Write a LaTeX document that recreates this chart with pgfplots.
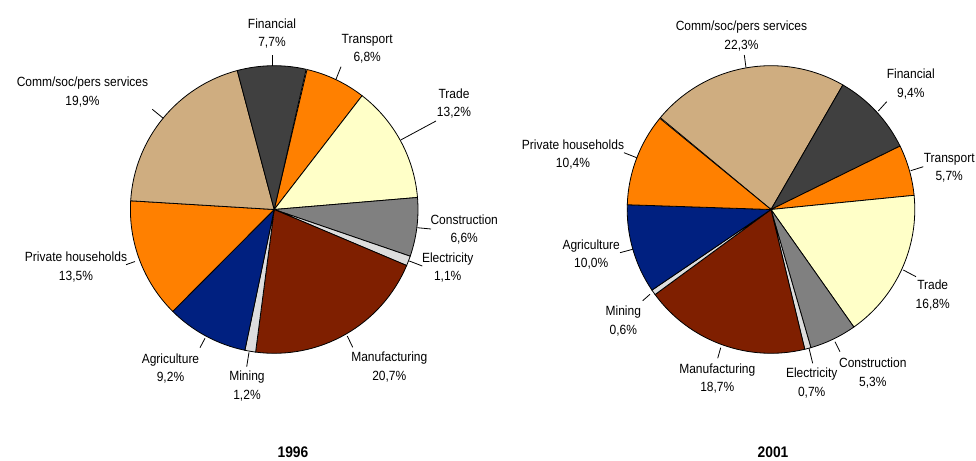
\documentclass[border=0pt]{standalone}
\usepackage{fontspec}
\setmainfont{Liberation Sans}[FakeStretch=0.9]
\usepackage{pgfplots}
\usepackage{pgfplotstable}
\pgfplotsset{compat=1.18}

\definecolor{cTan}{HTML}{CFAD80}
\definecolor{cDark}{HTML}{404040}
\definecolor{cOrange}{HTML}{FF8000}
\definecolor{cYellow}{HTML}{FFFFC8}
\definecolor{cGrey}{HTML}{808080}
\definecolor{cLight}{HTML}{DDDDDD}
\definecolor{cBrown}{HTML}{7F1F00}
\definecolor{cNavy}{HTML}{002080}

% shares in %, slice colour, label position (px) and leader line (px)
\pgfplotstableread[col sep=comma]{
sector,pct,fill,lx,ly,ax,ay,bx,by
Transport,6.8,cOrange,367.2,38.3,341,66.7,336,79.3
Trade,13.2,cYellow,454,93.3,436,121,400.7,140
Construction,6.6,cGrey,464.2,219.3,431,229,417.3,227.7
Electricity,1.1,cLight,447.7,257.3,422.3,266,409.3,261
Manufacturing,20.7,cBrown,389.3,356.7,352.7,347.3,347.3,336
Mining,1.2,cLight,247,376,246.7,366.7,249,352.3
Agriculture,9.2,cNavy,170.5,358.3,200,347.7,205,338.3
Private households,13.5,cOrange,76,256.7,126,264.7,135,261.5
Comm/soc/pers services,19.9,cTan,82.5,81.7,152.3,109.3,163.3,118.3
Financial,7.7,cDark,272,23.3,272.7,55,272.7,65.7
}\sharesA

\pgfplotstableread[col sep=comma]{
sector,pct,fill,lx,ly,ax,ay,bx,by
Comm/soc/pers services,22.3,cTan,741.5,26,744.3,55,746,67.7
Financial,9.4,cDark,910.8,74,886.7,101.7,878.3,111
Transport,5.7,cOrange,949.2,157.3,923.3,166.7,910.7,170.7
Trade,16.8,cYellow,932.7,285,916,276.7,903.3,270
Construction,5.3,cGrey,872.8,362.7,840,351.7,835,341.7
Electricity,0.7,cLight,811.7,372.7,812.7,363.3,809,348.3
Manufacturing,18.7,cBrown,717.3,368.3,717.7,358.3,720.7,347.7
Mining,0.6,cLight,623.3,310.7,642.7,300.7,650,294.3
Agriculture,10.0,cNavy,591.2,244.3,620,252.7,632.7,249.3
Private households,10.4,cOrange,573,144.3,624,152.7,636.7,157.7
}\sharesB

\def\pieR{107.85pt}
\pgfkeys{/pgf/number format/.cd,fixed,fixed zerofill,precision=1,use comma,assume math mode=true}

% #1 table, #2 #3 centre (px), #4 angle where the first slice starts
\newcommand\drawpie[4]{%
  \pgfplotstablegetrowsof{#1}%
  \pgfmathtruncatemacro\nrows{\pgfplotsretval-1}%
  \def\angA{#4}%
  \pgfplotsforeachungrouped \i in {0,...,\nrows}{%
    \pgfplotstablegetelem{\i}{sector}\of{#1}\let\nm\pgfplotsretval
    \pgfplotstablegetelem{\i}{pct}\of{#1}\let\pct\pgfplotsretval
    \pgfplotstablegetelem{\i}{fill}\of{#1}\let\col\pgfplotsretval
    \pgfplotstablegetelem{\i}{lx}\of{#1}\let\lx\pgfplotsretval
    \pgfplotstablegetelem{\i}{ly}\of{#1}\let\ly\pgfplotsretval
    \pgfplotstablegetelem{\i}{ax}\of{#1}\let\ax\pgfplotsretval
    \pgfplotstablegetelem{\i}{ay}\of{#1}\let\ay\pgfplotsretval
    \pgfplotstablegetelem{\i}{bx}\of{#1}\let\bx\pgfplotsretval
    \pgfplotstablegetelem{\i}{by}\of{#1}\let\by\pgfplotsretval
    \pgfmathsetmacro\angB{\angA-3.6*\pct}%
    \pgfmathsetmacro\yA{\ly+4.8}%
    \pgfmathsetmacro\yB{\ly+23.5}%
    \pgfmathprintnumberto{\pct}{\pcttxt}%
    \edef\temp{%
      \noexpand\filldraw[fill=\col,draw=black,line width=0.6pt]
        (axis cs:#2,#3) -- ++(\angA:\pieR)
        arc[start angle=\angA,end angle=\angB,radius=\pieR] -- cycle;
      \noexpand\draw[line width=0.6pt] (axis cs:\ax,\ay) -- (axis cs:\bx,\by);
      \noexpand\node[lbl] at (axis cs:\lx,\yA) {\nm};
      \noexpand\node[lbl] at (axis cs:\lx,\yB) {\pcttxt\noexpand\%};
    }\temp
    \let\angA\angB
  }%
}

\begin{document}
\begin{tikzpicture}[lbl/.style={font=\fontsize{10}{12}\selectfont,inner sep=0pt,anchor=base}]
\begin{axis}[
  x=0.75pt,y=0.75pt,
  xmin=0,xmax=976,ymin=0,ymax=461,
  y dir=reverse,
  hide axis,
  clip=false,
]
\path (axis cs:0,0) rectangle (axis cs:976,461);
\drawpie{\sharesA}{274.2}{209.5}{76.8}
\drawpie{\sharesB}{771}{209.5}{140.3}
\node[font=\bfseries\fontsize{11.5}{13}\selectfont,inner sep=0pt,anchor=base] at (axis cs:293,457.5) {1996};
\node[font=\bfseries\fontsize{11.5}{13}\selectfont,inner sep=0pt,anchor=base] at (axis cs:773,457.5) {2001};
\end{axis}
\end{tikzpicture}
\end{document}
